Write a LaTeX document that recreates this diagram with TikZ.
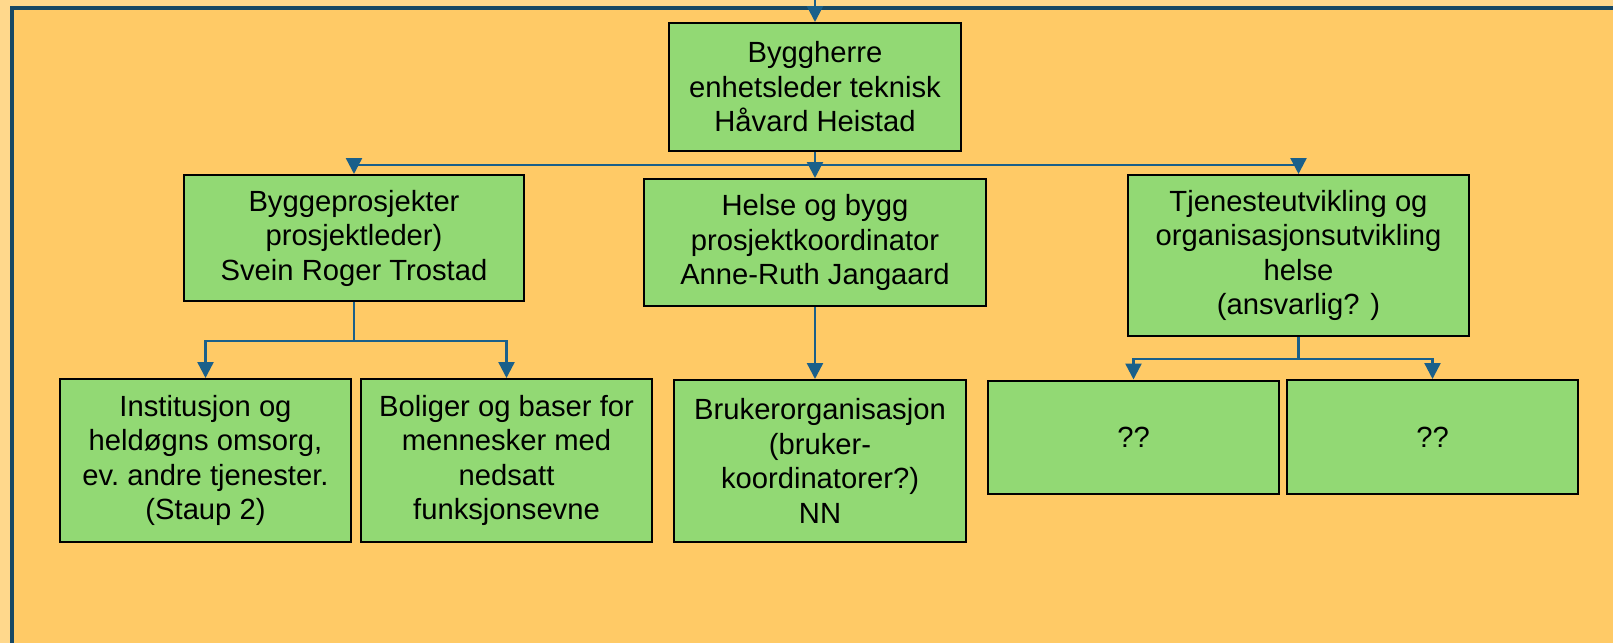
\documentclass[tikz,border=0pt]{standalone}
\usepackage{fontspec}
\setmainfont{Liberation Sans}
\usepackage{xcolor}
\usetikzlibrary{arrows.meta, positioning}
\definecolor{boxgreen}{RGB}{146,217,116}
\definecolor{bgorange}{RGB}{255,202,102}
\definecolor{bgpeach}{RGB}{255,216,140}
\definecolor{frameblue}{RGB}{24,72,100}
\definecolor{linkblue}{RGB}{26,96,138}

\begin{document}
\begin{tikzpicture}[x=0.5pt, y=-0.5pt,
        box/.style={rectangle, draw=black, line width=1pt, fill=boxgreen, align=center, inner sep=0pt, font=\fontsize{14.6}{17.25}\selectfont},
        arrow/.style={-{Triangle[length=8pt, width=8pt]}, line width=1.2pt, draw=linkblue}
    ]
        % background and frame
        \fill[bgpeach] (0,0) rectangle (1613,643);
        \useasboundingbox (0,0) rectangle (1613,643);
        \begin{scope}
            \clip (0,0) rectangle (1613,643);
            \filldraw[fill=bgorange, draw=frameblue, line width=2pt] (12,8) rectangle (1700,720);
        \end{scope}

        \coordinate (src) at (815,0);
        \node[box, minimum width=146pt, minimum height=64pt] (herre) at (815,87) {Byggherre\\enhetsleder teknisk\\Håvard Heistad};

        \node[box, minimum width=170pt, minimum height=63pt] (bygg) at (354,238) {Byggeprosjekter\\prosjektleder)\\Svein Roger Trostad};
        \node[box, minimum width=171pt, minimum height=63.5pt] (helse) at (815,242.5) {Helse og bygg\\prosjektkoordinator\\Anne-Ruth Jangaard};
        \node[box, minimum width=170.5pt, minimum height=80.5pt] (tjeneste) at (1298.5,255.5) {Tjenesteutvikling og\\organisasjonsutvikling\\helse\\(ansvarlig? )};

        \node[box, minimum width=145.5pt, minimum height=81.5pt] (institusjon) at (205.5,460.5) {Institusjon og\\heldøgns omsorg,\\ev.\ andre tjenester.\\(Staup 2)};
        \node[box, minimum width=145.5pt, minimum height=81.5pt] (boliger) at (506.5,460.5) {Boliger og baser for\\mennesker med\\nedsatt\\funksjonsevne};
        \node[box, minimum width=146pt, minimum height=81pt] (bruker) at (820,461) {Brukerorganisasjon\\(bruker-\\koordinatorer?)\\NN};
        \node[box, minimum width=145.5pt, minimum height=56.5pt] (ukjentA) at (1133.5,437) {??};
        \node[box, minimum width=145.5pt, minimum height=57pt] (ukjentB) at (1432.5,437) {??};

        \draw[arrow] (src) -- (herre.north);
        \draw[arrow] (herre.south) -- ++(0,13) -| (bygg.north);
        \draw[arrow] (herre.south) -- (helse.north);
        \draw[arrow] (herre.south) -- ++(0,13) -| (tjeneste.north);

        \draw[arrow] (bygg.south) -- ++(0,39) -| (institusjon.north);
        \draw[arrow] (bygg.south) -- ++(0,39) -| (boliger.north);
        \draw[arrow] (helse.south) -- (helse.south |- bruker.north);
        \draw[arrow] (tjeneste.south) -- ++(0,22) -| (ukjentA.north);
        \draw[arrow] (tjeneste.south) -- ++(0,22) -| (ukjentB.north);
    \end{tikzpicture}
\end{document}
